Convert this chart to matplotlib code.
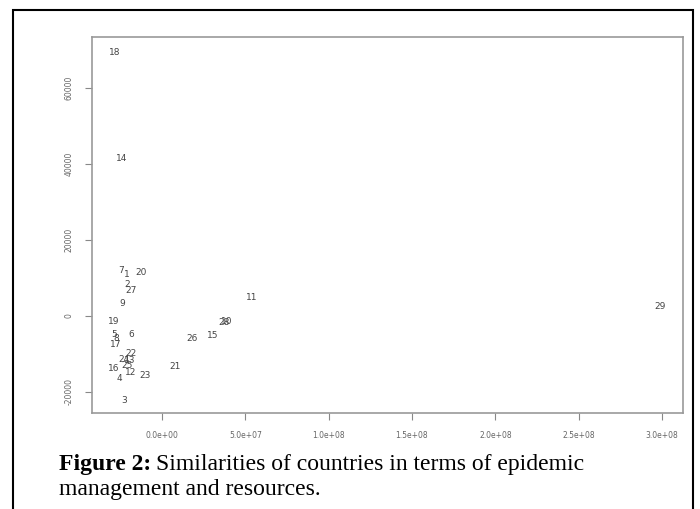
import matplotlib
matplotlib.use("Agg")
import matplotlib.pyplot as plt
from matplotlib.patches import Rectangle

# country index labels and their coordinates
labels = [str(i) for i in range(1, 30)]
xs = [-2.10e7, -2.10e7, -2.28e7, -2.58e7, -2.88e7, -1.86e7, -2.46e7, -2.76e7,
      -2.40e7, 3.90e7, 5.40e7, -1.86e7, -1.92e7, -2.40e7, 3.06e7, -2.88e7,
      -2.76e7, -2.82e7, -2.88e7, -1.26e7, 7.8e6, -1.86e7, -1.02e7, -2.28e7,
      -2.10e7, 1.80e7, -1.86e7, 3.72e7, 2.99e8]
ys = [11050, 8420, -22370, -16320, -4740, -5000, 12100, -6050,
      3420, -1320, 5000, -15000, -11840, 41580, -5260, -13690,
      -7630, 69470, -1320, 11320, -13420, -10000, -15790, -11580,
      -13160, -6050, 6840, -1580, 2630]

xticks = [0, 5e7, 1e8, 1.5e8, 2e8, 2.5e8, 3e8]
xticklabels = ["0.0e+00", "5.0e+07", "1.0e+08", "1.5e+08", "2.0e+08", "2.5e+08", "3.0e+08"]
yticks = [-20000, 0, 20000, 40000, 60000]
yticklabels = ["-20000", "0", "20000", "40000", "60000"]

fig = plt.figure(figsize=(7, 5.09), dpi=100)
ax = fig.add_axes([92 / 700, 1 - 413 / 509, (683 - 92) / 700, (413 - 37) / 509])

for lab, x, y in zip(labels, xs, ys):
    ax.text(x, y, lab, fontsize=6.5, color="#444444", ha="center", va="center")

ax.set_xlim(-4.2e7, 3.126e8)
ax.set_ylim(-25530, 73430)
ax.set_xticks(xticks)
ax.set_xticklabels(xticklabels)
ax.set_yticks(yticks)
ax.set_yticklabels(yticklabels, rotation=90, va="center")
ax.tick_params(labelsize=5.5, colors="#888888", labelcolor="#666666", length=5, width=0.8, pad=8)
for s in ax.spines.values():
    s.set_color("#999999")
    s.set_linewidth(1.2)

# outer frame around figure + caption
fig.patches.append(Rectangle((13 / 700, -0.02), (693 - 13) / 700, 1 - 10 / 509 + 0.02,
                             transform=fig.transFigure, fill=False,
                             edgecolor="black", linewidth=1.5))

cap_font = "Liberation Serif"
t = fig.text(59 / 700, 1 - 470 / 509, "Figure 2:", fontsize=17, fontweight="bold",
             family=cap_font, va="baseline", ha="left")
fig.canvas.draw()
bb = t.get_window_extent()
fig.text(bb.x1 / 700 + 0.007, 1 - 470 / 509, "Similarities of countries in terms of epidemic",
         fontsize=17, family=cap_font, va="baseline", ha="left")
fig.text(59 / 700, 1 - 495 / 509, "management and resources.",
         fontsize=17, family=cap_font, va="baseline", ha="left")

fig.savefig("out.png", dpi=100)
